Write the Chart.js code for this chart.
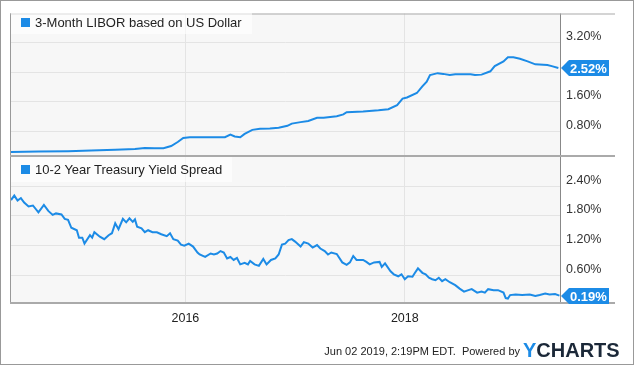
<!DOCTYPE html>
<html>
<head>
<meta charset="utf-8">
<script src="https://cdn.jsdelivr.net/npm/chart.js@4.4.0/dist/chart.umd.min.js"></script>
<style>
  body { margin: 0; background: #fff; font-family: "Liberation Sans", Arial, sans-serif; }
  #wrap { position: relative; width: 635px; height: 366px; overflow: hidden; }
  #border { position: absolute; left: 0; top: 0; width: 632px; height: 363px; border: 1px solid #999; }
  canvas { position: absolute; left: 0; }
  .legend { position: absolute; left: 11px; display: flex; align-items: center; padding: 0 10px; background: rgba(255,255,255,0.6); font-size: 13px; color: #222; white-space: nowrap; }
  .legend i { display: inline-block; width: 9px; height: 9px; background: #1c8be6; margin-right: 5px; }
  #stamp { position: absolute; right: 115px; top: 344px; font-size: 11px; line-height: 14px; color: #222; white-space: pre; }
  #logo { position: absolute; left: 523px; top: 340px; font-size: 20px; line-height: 20px; font-weight: bold; color: #1b2838; }
  #logo span { color: #1c8be6; }
</style>
</head>
<body>
<div id="wrap">
  <div id="border"></div>
  <canvas id="chartlibor" width="635" height="170" style="top:0;width:635px;height:170px"></canvas>
  <canvas id="chartspread" width="635" height="200" style="top:140px;width:635px;height:200px"></canvas>
  <div class="legend" style="top:10px;height:24px"><i></i>3-Month LIBOR based on US Dollar</div>
  <div class="legend" style="top:157px;height:25px"><i></i>10-2 Year Treasury Yield Spread</div>
  <div id="stamp">Jun 02 2019, 2:19PM EDT.  Powered by</div>
  <div id="logo"><span>Y</span>CHARTS</div>
</div>
<script>
// values (x in fractional years)
const yearTicks = [2016, 2018]
const liborTicks = [0.8, 1.6, 2.4, 3.2]
const spreadTicks = [0.6, 1.2, 1.8, 2.4]

const liborYears = [2014.41, 2014.66, 2014.93, 2015.14, 2015.36, 2015.54, 2015.63, 2015.72, 2015.80, 2015.87,
    2015.93, 2015.98, 2016.04, 2016.23, 2016.36, 2016.41, 2016.45, 2016.50, 2016.54, 2016.61,
    2016.68, 2016.77, 2016.85, 2016.93, 2016.97, 2017.05, 2017.12, 2017.20, 2017.26, 2017.38,
    2017.44, 2017.47, 2017.62, 2017.76, 2017.85, 2017.93, 2017.98, 2018.02, 2018.11, 2018.16,
    2018.20, 2018.23, 2018.30, 2018.35, 2018.41, 2018.46, 2018.60, 2018.64, 2018.70, 2018.78,
    2018.82, 2018.90, 2018.94, 2018.99, 2019.05, 2019.12, 2019.19, 2019.30, 2019.34, 2019.40]
const liborValues = [0.24, 0.25, 0.26, 0.28, 0.30, 0.32, 0.35, 0.34, 0.34, 0.40,
    0.51, 0.62, 0.64, 0.64, 0.64, 0.71, 0.66, 0.64, 0.73, 0.84,
    0.87, 0.88, 0.90, 0.95, 1.01, 1.05, 1.08, 1.17, 1.17, 1.21,
    1.26, 1.32, 1.34, 1.37, 1.40, 1.51, 1.69, 1.72, 1.84, 2.02,
    2.15, 2.33, 2.38, 2.36, 2.33, 2.35, 2.35, 2.33, 2.34, 2.43,
    2.57, 2.70, 2.81, 2.81, 2.77, 2.70, 2.62, 2.60, 2.57, 2.52]

const spreadYears = [2014.41, 2014.44, 2014.47, 2014.50, 2014.53, 2014.57, 2014.61, 2014.66, 2014.71, 2014.75,
    2014.79, 2014.82, 2014.87, 2014.90, 2014.93, 2014.96, 2015.01, 2015.03, 2015.06, 2015.08,
    2015.13, 2015.15, 2015.17, 2015.22, 2015.26, 2015.30, 2015.33, 2015.36, 2015.39, 2015.43,
    2015.46, 2015.49, 2015.52, 2015.54, 2015.56, 2015.60, 2015.63, 2015.66, 2015.70, 2015.74,
    2015.78, 2015.83, 2015.86, 2015.89, 2015.93, 2015.96, 2015.99, 2016.03, 2016.07, 2016.11,
    2016.13, 2016.18, 2016.23, 2016.26, 2016.29, 2016.32, 2016.35, 2016.38, 2016.41, 2016.44,
    2016.47, 2016.50, 2016.54, 2016.57, 2016.59, 2016.63, 2016.67, 2016.71, 2016.74, 2016.78,
    2016.82, 2016.85, 2016.88, 2016.91, 2016.94, 2016.97, 2017.00, 2017.05, 2017.08, 2017.12,
    2017.16, 2017.20, 2017.23, 2017.27, 2017.30, 2017.33, 2017.38, 2017.43, 2017.47, 2017.50,
    2017.53, 2017.56, 2017.62, 2017.65, 2017.68, 2017.72, 2017.77, 2017.79, 2017.82, 2017.87,
    2017.90, 2017.94, 2017.97, 2018.00, 2018.03, 2018.07, 2018.09, 2018.12, 2018.16, 2018.19,
    2018.22, 2018.25, 2018.28, 2018.31, 2018.34, 2018.37, 2018.41, 2018.46, 2018.50, 2018.54,
    2018.58, 2018.61, 2018.66, 2018.70, 2018.73, 2018.76, 2018.81, 2018.85, 2018.90, 2018.92,
    2018.94, 2018.96, 2019.01, 2019.07, 2019.14, 2019.19, 2019.23, 2019.28, 2019.32, 2019.37,
    2019.41]
const spreadValues = [2.12, 2.21, 2.11, 2.16, 2.07, 1.99, 2.01, 1.87, 2.02, 1.90,
    1.82, 1.85, 1.83, 1.74, 1.72, 1.56, 1.51, 1.36, 1.36, 1.24,
    1.41, 1.36, 1.47, 1.38, 1.33, 1.41, 1.45, 1.65, 1.53, 1.74,
    1.67, 1.75, 1.68, 1.73, 1.58, 1.55, 1.47, 1.51, 1.47, 1.47,
    1.43, 1.39, 1.45, 1.33, 1.30, 1.22, 1.20, 1.24, 1.18, 1.06,
    1.02, 0.97, 1.04, 1.02, 1.04, 1.09, 1.06, 0.94, 0.97, 0.91,
    0.95, 0.82, 0.85, 0.82, 0.89, 0.82, 0.79, 0.93, 0.82, 0.91,
    0.94, 1.02, 1.22, 1.24, 1.31, 1.33, 1.28, 1.18, 1.27, 1.24,
    1.16, 1.21, 1.14, 1.09, 1.02, 1.06, 1.03, 0.86, 0.81, 0.86,
    0.99, 0.91, 0.91, 0.87, 0.82, 0.86, 0.87, 0.77, 0.84, 0.68,
    0.62, 0.58, 0.62, 0.52, 0.58, 0.57, 0.64, 0.74, 0.65, 0.62,
    0.55, 0.52, 0.50, 0.55, 0.48, 0.52, 0.46, 0.40, 0.33, 0.27,
    0.30, 0.32, 0.25, 0.27, 0.25, 0.32, 0.30, 0.30, 0.25, 0.14,
    0.13, 0.20, 0.21, 0.20, 0.21, 0.18, 0.20, 0.23, 0.21, 0.22,
    0.19]

const blue = '#1c8be6'
const gridColor = '#e4e4e4'
const tickFont = {family: 'Liberation Sans', size: 12.5}

// plot background, frame lines and the last-value tag
const framePlugin = {
    id: 'frame',
    beforeDraw(chart) {
        const a = chart.chartArea
        const ctx = chart.ctx
        ctx.save()
        ctx.fillStyle = '#f7f7f7'
        ctx.fillRect(a.left, a.top, a.right - a.left, a.bottom - a.top)
        ctx.restore()
    },
    afterDraw(chart, args, opts) {
        const a = chart.chartArea
        const ctx = chart.ctx
        ctx.save()
        ctx.fillStyle = '#999'
        ctx.fillRect(a.left - 1, a.top, 1, a.bottom - a.top)
        ctx.fillStyle = '#888'
        ctx.fillRect(a.right, a.top, 1, a.bottom - a.top)
        ctx.fillStyle = '#aaa'
        if (opts.first) {
            ctx.fillRect(a.left - 1, a.top, 605, 1)
        } else {
            ctx.fillRect(a.left - 1, a.top - 1, 605, 2)
            ctx.fillRect(a.left - 1, a.bottom - 1, 605, 2)
        }
        const values = chart.data.datasets[0].data
        const last = values[values.length - 1].y
        const y = Math.round(chart.scales.y.getPixelForValue(last))
        const x0 = a.right + 1
        ctx.fillStyle = blue
        ctx.beginPath()
        ctx.moveTo(x0, y)
        ctx.lineTo(x0 + 8, y - 8)
        ctx.lineTo(x0 + 48, y - 8)
        ctx.lineTo(x0 + 48, y + 8)
        ctx.lineTo(x0 + 8, y + 8)
        ctx.closePath()
        ctx.fill()
        ctx.fillStyle = '#fff'
        ctx.font = 'bold 13px "Liberation Sans"'
        ctx.textBaseline = 'middle'
        ctx.textAlign = 'left'
        ctx.fillText(last.toFixed(2) + '%', x0 + 9, y + 1)
        ctx.restore()
    }
}

function makeChart(id, years, values, yTicks, yMin, yMax, padTop, padBottom, showYears, first) {
    const ctx = document.getElementById(id)
    return new Chart(ctx, {
        type: 'line',
        data: {
            datasets: [{
                data: years.map((t, i) => ({x: t, y: values[i]})),
                borderColor: blue,
                borderWidth: 2,
                pointRadius: 0,
                tension: 0,
                fill: false
            }]
        },
        options: {
            responsive: false,
            animation: false,
            events: [],
            layout: {padding: {top: padTop, left: 11, right: 0, bottom: padBottom}},
            plugins: {legend: {display: false}, tooltip: {enabled: false}, frame: {first: first}},
            scales: {
                x: {
                    type: 'linear',
                    min: 2014.41,
                    max: 2019.415,
                    afterBuildTicks: s => { s.ticks = yearTicks.map(v => ({value: v})) },
                    afterFit: s => { s.height = showYears ? 37 : 0 },
                    grid: {color: gridColor, drawTicks: false},
                    border: {display: false},
                    ticks: {display: showYears, padding: 8, color: '#222', font: tickFont, callback: v => String(v)}
                },
                y: {
                    position: 'right',
                    min: yMin,
                    max: yMax,
                    afterBuildTicks: s => { s.ticks = yTicks.map(v => ({value: v})) },
                    afterFit: s => { s.width = 75 },
                    grid: {color: gridColor, drawTicks: false},
                    border: {display: false},
                    ticks: {padding: 6, labelOffset: -6, color: '#333', font: tickFont, callback: v => v.toFixed(2) + '%'}
                }
            }
        },
        plugins: [framePlugin]
    })
}

makeChart('chartlibor', liborYears, liborValues, liborTicks, 0.13, 4.0, 10, 14, false, true)
makeChart('chartspread', spreadYears, spreadValues, spreadTicks, 0.04, 3.01, 16, 0, true, false)
</script>
</body>
</html>
